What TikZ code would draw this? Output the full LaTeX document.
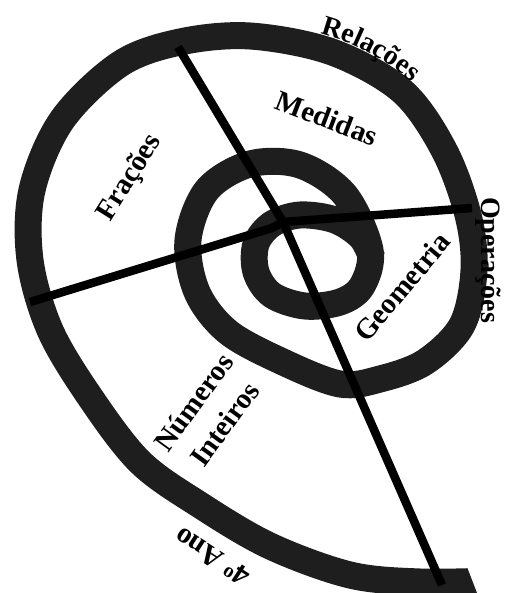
\documentclass[tikz,border=0pt]{standalone}
\usepackage{fontspec}
\setmainfont{Liberation Serif}
\usetikzlibrary{decorations.text}
\definecolor{ringc}{RGB}{30,30,30}
\begin{document}
\begin{tikzpicture}[x=1pt,y=-1pt,
  lbl/.style={font=\fontsize{29}{38}\selectfont\bfseries, inner sep=0pt},
  spoke/.style={draw=black, line width=8.5pt, line join=round},
  band/.style={draw=ringc, line width=27pt}]
\useasboundingbox (0,0) rectangle (504,593);
\begin{scope}
\clip (0,0) -- (504,0) -- (504,540) -- (456.6,540) -- (479.7,600) -- (0,600) -- cycle;
\draw[band] plot[smooth, tension=0.55] coordinates {
 (490,581) (420,582) (350,575) (270,546) (200,505) (140,462) (90,397)
 (50,330) (30,260) (32,190) (62,120) (120,64) (180,42) (250,36) (332,52) (402,91)
 (444,150) (468,215) (474,270) (462,325) (425,362) (380,379)
 (340,384) (283,362) (228,332) (197,292) (188,240) (207,190) (250,164) (300,165)
 (345,195) (370,250) (362,286) (340,302) (305,306) (272,295) (256,272)
 (256,244) (272,224) (300,215) (335,220) (361,237) (372,258)};
\end{scope}
\coordinate (c) at (283,222);
\coordinate (ptop) at (178,47);
\coordinate (pright) at (472,208);
\coordinate (pleft) at (30,302);
\coordinate (pbot) at (442,585);
\coordinate (kink) at (272,228);
\draw[spoke] (ptop) -- (c) -- (pbot);
\draw[spoke] (pleft) -- (kink) -- (c) -- (pright);
\path[decorate, decoration={text along path, text align=center,
  text={|\fontsize{28}{30}\selectfont\bfseries|Relações}}]
  (298,29) .. controls (344,36) and (390,58) .. (428,98);
\node[lbl, rotate=-21] (med) at (327,118) {Medidas};
\node[lbl, rotate=58] (fra) at (130,178) {Frações};
\node[lbl, rotate=50] (geo) at (402,287) {Geometria};
\node[lbl, font=\fontsize{28}{30}\selectfont\bfseries, rotate=-90] (ope) at (488,260) {Operações};
\node[lbl, rotate=54, align=center] (num) at (209,413) {Números\\Inteiros};
\node[lbl, rotate=147] (ano) at (212,557) {4\textsuperscript{o} Ano};
\end{tikzpicture}
\end{document}
